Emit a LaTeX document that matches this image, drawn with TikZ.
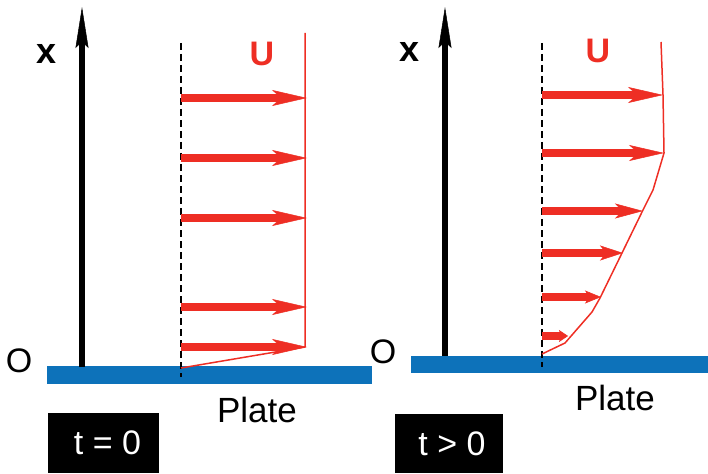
\documentclass[tikz,border=0pt]{standalone}
\usepackage{fontspec}
\setmainfont{Liberation Sans}
\usetikzlibrary{arrows.meta,calc,positioning}

\definecolor{flowred}{RGB}{238,46,36}
\definecolor{plateblue}{RGB}{13,114,186}

\tikzset{
  plate/.style={fill=plateblue, draw=none, inner sep=0pt},
  timebox/.style={fill=black, text=white, inner sep=0pt, font=\fontsize{34}{38}\selectfont},
  axisline/.style={line width=6pt, -{Stealth[length=41pt, width=13pt, inset=6pt, line width=0.5pt]}},
  wall/.style={line width=2pt, dash pattern=on 7pt off 4pt},
  profile/.style={draw=flowred, line width=1.5pt, line join=round},
  uarrow/.style n args={3}{draw=flowred, line width=8pt,
    -{Stealth[length=#1pt, width=#2pt, inset=#3pt, line width=0.5pt]}},
  axislabel/.style={inner sep=0pt, font=\bfseries\fontsize{36}{40}\selectfont},
  ulabel/.style={inner sep=0pt, text=flowred, font=\bfseries\fontsize{34}{38}\selectfont},
  plainlabel/.style={inner sep=0pt, font=\fontsize{35}{40}\selectfont}
}

\begin{document}
\begin{tikzpicture}[x=1pt,y=-1pt]
\useasboundingbox (0,0) rectangle (708,473);

% ---- t = 0 ----
\node[plate, minimum width=325pt, minimum height=18pt] (plateL) at (209.5,375) {};
\node[timebox, minimum width=111pt, minimum height=60pt] (timeL) at (103.5,443) {\hspace*{8pt}t = 0};

\coordinate (baseL) at (82,367);
\coordinate (tipL) at (82,7);
\draw[axisline] (baseL) -- (tipL);

\coordinate (wallLtop) at (181,43);
\coordinate (wallLbot) at (181,377);
\draw[wall] (wallLtop) -- (wallLbot);

\coordinate (pL0) at (181,368);
\coordinate (pL1) at (305,347);
\coordinate (pL2) at (305,33);
\draw[profile] (pL0) -- (pL1) -- (pL2);

\foreach \y [count=\i] in {98,158,218,307,347} {
  \coordinate (aL\i) at (181,\y);
  \coordinate (bL\i) at (307,\y);
  \draw[uarrow={35}{16}{9}] (aL\i) -- (bL\i);
}

\node[axislabel] (xL) at (47,54) {x};
\node[plainlabel, font=\fontsize{34}{38}\selectfont] (oL) at (19,361) {O};
\node[ulabel] (uL) at (262,54) {U};
\node[plainlabel] (pL) at (257,410) {Plate};

% ---- t > 0 ----
\node[plate, minimum width=297pt, minimum height=17pt] (plateR) at (559.5,364.5) {};
\node[timebox, minimum width=108pt, minimum height=59pt] (timeR) at (449,443.5) {\hspace*{6pt}t > 0};

\coordinate (baseR) at (445,356);
\coordinate (tipR) at (445,7);
\draw[axisline] (baseR) -- (tipR);

\coordinate (wallRtop) at (542,43);
\coordinate (wallRbot) at (542,367);
\draw[wall] (wallRtop) -- (wallRbot);

\draw[profile] (542,354) coordinate (pR0) -- (565,343) coordinate (pR1)
  -- (592,312) coordinate (pR2) -- (600,298) coordinate (pR3)
  -- (622,253) coordinate (pR4) -- (642,212) coordinate (pR5)
  -- (653,190) coordinate (pR6) -- (664,153) coordinate (pR7)
  -- (663,95) coordinate (pR8) -- (661,42) coordinate (pR9);

\foreach \y/\xe/\hl/\hw/\hi [count=\i] in
  {95/663/35/16/9, 153/664/35/16/9, 211/643/28/15/7,
   253/623/23/15/6, 297/601/16/13/4, 336/568/9/12/2} {
  \coordinate (aR\i) at (542,\y);
  \coordinate (bR\i) at (\xe,\y);
  \draw[uarrow={\hl}{\hw}{\hi}] (aR\i) -- (bR\i);
}

\node[axislabel] (xR) at (410,52) {x};
\node[plainlabel, font=\fontsize{34}{38}\selectfont] (oR) at (383,352) {O};
\node[ulabel] (uR) at (598,51) {U};
\node[plainlabel] (pR) at (615,398) {Plate};
\end{tikzpicture}
\end{document}
